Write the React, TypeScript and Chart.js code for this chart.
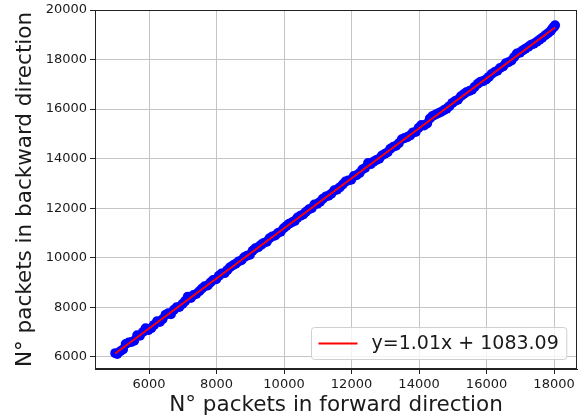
import React, { useEffect, useRef } from 'react';
import { Chart, registerables } from 'chart.js';

Chart.register(...registerables);

// ---- Data ----
const scatterX = [
  5000, 5060, 5150, 5230, 5310, 5400, 5480, 5560, 5650, 5730, 5820, 5900, 5980, 6070, 6150, 6240,
  6320, 6400, 6490, 6570, 6650, 6740, 6820, 6900, 6990, 7070, 7150, 7240, 7320, 7400, 7490, 7570,
  7650, 7740, 7820, 7900, 7990, 8070, 8150, 8240, 8320, 8400, 8490, 8570, 8650, 8740, 8820, 8900,
  8990, 9070, 9150, 9240, 9320, 9400, 9490, 9570, 9650, 9740, 9820, 9900, 9990, 10070, 10150, 10240,
  10320, 10400, 10490, 10570, 10650, 10740, 10820, 10900, 10990, 11070, 11150, 11240, 11320, 11400,
  11490, 11570, 11650, 11740, 11820, 11900, 11990, 12070, 12150, 12240, 12320, 12400, 12490, 12570,
  12650, 12740, 12820, 12900, 12990, 13070, 13150, 13240, 13320, 13400, 13490, 13570, 13650, 13740,
  13820, 13900, 13990, 14070, 14150, 14240, 14320, 14400, 14490, 14570, 14650, 14740, 14820, 14900,
  14990, 15070, 15150, 15240, 15320, 15400, 15490, 15570, 15650, 15740, 15820, 15900, 15990, 16070,
  16150, 16240, 16320, 16400, 16490, 16570, 16650, 16740, 16820, 16900, 16990, 17070, 17150, 17240,
  17320, 17400, 17490, 17570, 17650, 17740, 17820, 17900, 17950, 18000, 18030,
];
const scatterY = [
  6150, 6120, 6230, 6300, 6520, 6580, 6600, 6650, 6870, 6850, 7000, 7150, 7080, 7160, 7290, 7440,
  7410, 7520, 7700, 7760, 7720, 7900, 8000, 8010, 8130, 8250, 8430, 8380, 8500, 8540, 8650, 8760,
  8850, 8880, 9000, 9100, 9130, 9270, 9360, 9380, 9500, 9620, 9700, 9760, 9850, 9900, 10020, 10080,
  10120, 10280, 10380, 10430, 10520, 10600, 10650, 10790, 10860, 10900, 11000, 11050, 11190, 11280, 11370, 11430,
  11490, 11620, 11700, 11750, 11860, 11960, 12000, 12150, 12180, 12260, 12380, 12470, 12500, 12580,
  12720, 12750, 12840, 12960, 13080, 13120, 13150, 13300, 13330, 13420, 13560, 13620, 13820, 13780,
  13880, 13950, 14000, 14130, 14200, 14260, 14400, 14480, 14520, 14620, 14780, 14830, 14870, 14940,
  15060, 15080, 15250, 15360, 15340, 15420, 15620, 15720, 15780, 15830, 15880, 15960, 16020, 16120,
  16250, 16330, 16380, 16520, 16600, 16680, 16730, 16780, 16900, 17020, 17100, 17130, 17200, 17300,
  17420, 17500, 17550, 17660, 17720, 17850, 17890, 17960, 18100, 18240, 18280, 18370, 18440, 18520,
  18600, 18640, 18720, 18800, 18880, 18980, 19060, 19150, 19250, 19320, 19380,
];
const fitX = [5000, 18030];
const fitY = [6133, 19294];
const xTicks = [6000, 8000, 10000, 12000, 14000, 16000, 18000];
const yTicks = [6000, 8000, 10000, 12000, 14000, 16000, 18000, 20000];
const xTitle = 'N° packets in forward direction';
const yTitle = 'N° packets in backward direction';
const legendLabel = 'y=1.01x + 1083.09';

const FONT = '"DejaVu Sans", sans-serif';
const TEXT = '#1a1a1a';

const frameLegendPlugin = {
  id: 'frameLegend',
  afterDraw(chart: any) {
    const { ctx, chartArea: a } = chart;
    ctx.save();
    // frame (spines)
    ctx.strokeStyle = '#222';
    ctx.lineWidth = 1;
    const l = Math.round(a.left) + 0.5;
    const t = Math.round(a.top) + 0.5;
    const r = Math.round(a.right) - 0.5;
    const b = Math.round(a.bottom) - 0.5;
    ctx.strokeRect(l, t, r - l, b - t);

    // legend
    ctx.font = `19px ${FONT}`;
    const tw = ctx.measureText(legendLabel).width;
    const w = 7 + 39 + 14 + tw + 8;
    const h = 32;
    const x = Math.round(a.right - 11 - w) + 0.5;
    const y = Math.round(a.bottom - 10 - h) + 0.5;
    ctx.beginPath();
    if (ctx.roundRect) ctx.roundRect(x, y, w, h, 3);
    else ctx.rect(x, y, w, h);
    ctx.fillStyle = 'rgba(255,255,255,0.8)';
    ctx.fill();
    ctx.strokeStyle = '#d0d0d0';
    ctx.lineWidth = 1;
    ctx.stroke();
    ctx.beginPath();
    ctx.moveTo(x + 7, y + h / 2);
    ctx.lineTo(x + 46, y + h / 2);
    ctx.strokeStyle = '#ff0000';
    ctx.lineWidth = 2;
    ctx.stroke();
    ctx.fillStyle = TEXT;
    ctx.textBaseline = 'middle';
    ctx.textAlign = 'left';
    ctx.fillText(legendLabel, x + 60, y + h / 2 + 1);
    ctx.restore();
  },
};

export default function App() {
  const ref = useRef<HTMLCanvasElement>(null);

  useEffect(() => {
    document.body.style.margin = '0';
    const canvas = ref.current;
    if (!canvas) return;
    Chart.defaults.font.family = FONT;

    const zeroPad = (s: any) => {
      s.paddingLeft = 0;
      s.paddingRight = 0;
      s.paddingTop = 0;
      s.paddingBottom = 0;
    };

    const chart = new Chart(canvas, {
      type: 'scatter',
      data: {
        datasets: [
          {
            type: 'line',
            label: legendLabel,
            data: fitX.map((x, i) => ({ x, y: fitY[i] })),
            borderColor: '#ff0000',
            borderWidth: 2,
            pointRadius: 0,
            fill: false,
            order: 0,
          } as any,
          {
            type: 'scatter',
            label: 'points',
            data: scatterX.map((x, i) => ({ x, y: scatterY[i] })),
            backgroundColor: '#0000ff',
            borderColor: '#0000ff',
            borderWidth: 0,
            pointRadius: 5,
            order: 1,
          },
        ],
      },
      options: {
        animation: false,
        responsive: false,
        devicePixelRatio: 1,
        layout: { padding: { left: 0, top: 10, right: 4, bottom: 0 } },
        plugins: {
          legend: { display: false },
          tooltip: { enabled: false },
        },
        scales: {
          x: {
            type: 'linear',
            min: 4400,
            max: 18680,
            afterBuildTicks: (s: any) => {
              s.ticks = xTicks.map((v) => ({ value: v }));
            },
            afterFit: (s: any) => {
              s.height = 50;
              zeroPad(s);
            },
            ticks: {
              font: { family: FONT, size: 13 },
              color: TEXT,
              maxRotation: 0,
              padding: 3,
              callback: (v: any) => String(v),
            },
            grid: { color: '#c4c4c4', lineWidth: 1, tickLength: 5, tickColor: '#222', tickWidth: 1 },
            border: { display: true, color: '#222', width: 1 },
            title: {
              display: true,
              text: xTitle,
              color: TEXT,
              font: { family: FONT, size: 21.5 },
              padding: { top: 0, bottom: 1 },
            },
          },
          y: {
            type: 'linear',
            min: 5510,
            max: 20000,
            afterBuildTicks: (s: any) => {
              s.ticks = yTicks.map((v) => ({ value: v }));
            },
            afterFit: (s: any) => {
              s.width = 95;
              zeroPad(s);
            },
            ticks: {
              font: { family: FONT, size: 13 },
              color: TEXT,
              padding: 3,
              callback: (v: any) => String(v),
            },
            grid: { color: '#c4c4c4', lineWidth: 1, tickLength: 5, tickColor: '#222', tickWidth: 1 },
            border: { display: true, color: '#222', width: 1 },
            title: {
              display: true,
              text: yTitle,
              color: TEXT,
              font: { family: FONT, size: 21.5 },
              padding: { top: 13, bottom: 0 },
            },
          },
        },
      },
      plugins: [frameLegendPlugin],
    });
    return () => chart.destroy();
  }, []);

  return (
    <div style={{ width: 582, height: 419 }}>
      <canvas ref={ref} width={582} height={419} style={{ display: 'block' }} />
    </div>
  );
}
